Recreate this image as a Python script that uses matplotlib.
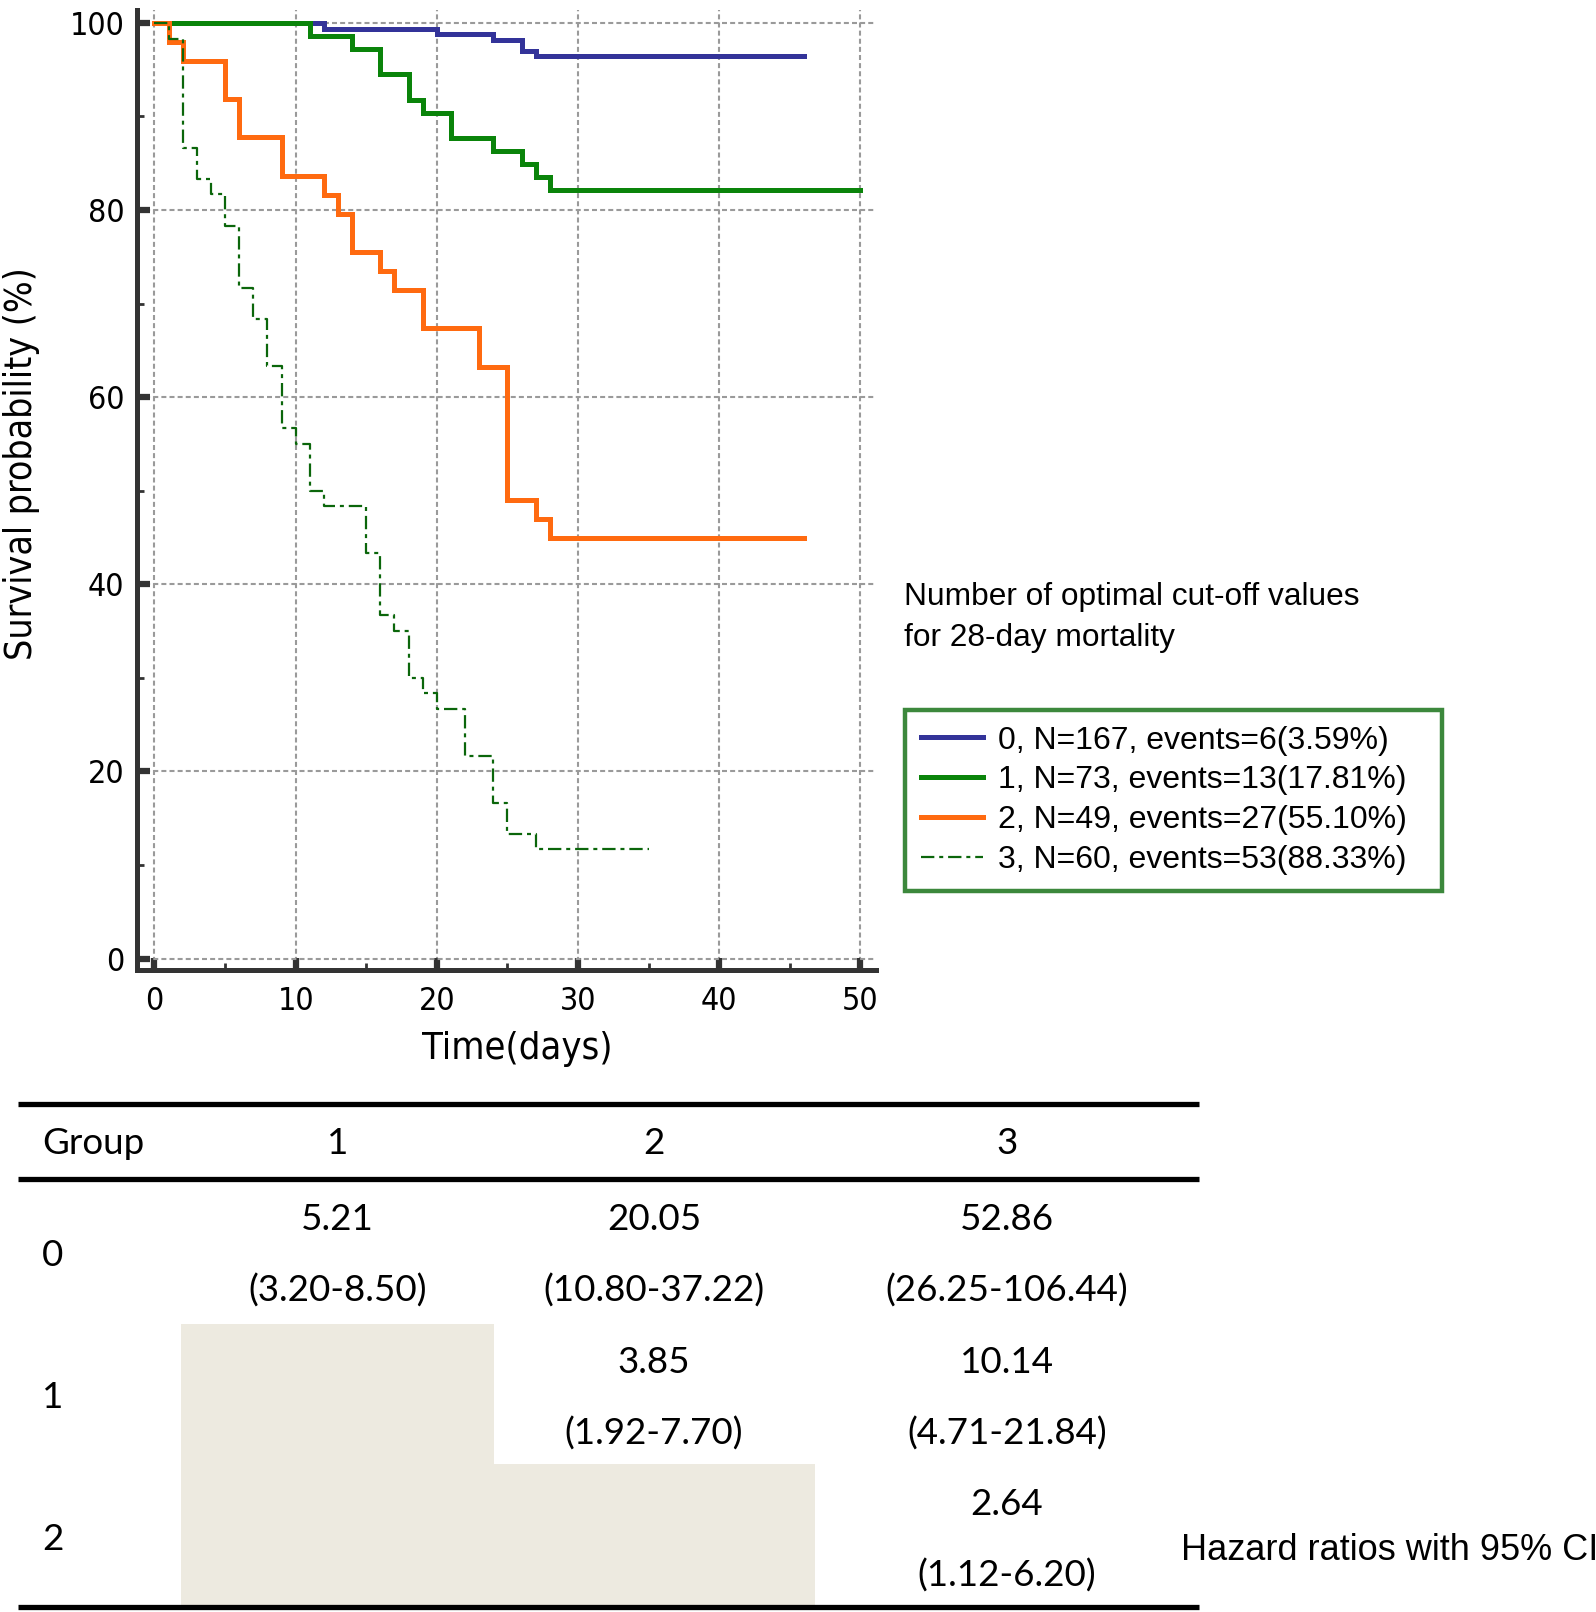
import matplotlib
matplotlib.use("Agg")
import matplotlib.pyplot as plt
from matplotlib import font_manager as fm
from matplotlib.patches import Rectangle
from matplotlib.ticker import MultipleLocator

# ---------------- data ----------------
group_labels = ["0, N=167, events=6(3.59%)",
                "1, N=73, events=13(17.81%)",
                "2, N=49, events=27(55.10%)",
                "3, N=60, events=53(88.33%)"]

g0_t = [0, 12, 20, 24, 26, 27, 46]
g0_s = [100, 99.40, 98.80, 98.20, 97.01, 96.41, 96.41]

g1_t = [0, 11, 14, 16, 18, 19, 21, 24, 26, 27, 28, 50]
g1_s = [100, 98.63, 97.26, 94.52, 91.78, 90.41, 87.67, 86.30, 84.93, 83.56, 82.19, 82.19]

g2_t = [0, 1, 2, 5, 6, 9, 12, 13, 14, 16, 17, 19, 23, 25, 27, 28, 46]
g2_s = [100, 97.96, 95.92, 91.84, 87.76, 83.67, 81.63, 79.59, 75.51, 73.47, 71.43,
        67.35, 63.27, 48.98, 46.94, 44.90, 44.90]

g3_t = [0, 1, 2, 3, 4, 5, 6, 7, 8, 9, 10, 11, 12, 15, 16, 17, 18, 19, 20, 22, 24, 25, 27, 35]
g3_s = [100, 98.33, 86.67, 83.33, 81.67, 78.33, 71.67, 68.33, 63.33, 56.67, 55.00, 50.00,
        48.33, 43.33, 36.67, 35.00, 30.00, 28.33, 26.67, 21.67, 16.67, 13.33, 11.67, 11.67]

x_ticks = [0, 10, 20, 30, 40, 50]
y_ticks = [0, 20, 40, 60, 80, 100]

table_cols = ["1", "2", "3"]
table_rows = ["0", "1", "2"]
hr_values = [["5.21", "20.05", "52.86"],
             ["", "3.85", "10.14"],
             ["", "", "2.64"]]
hr_ci = [["(3.20-8.50)", "(10.80-37.22)", "(26.25-106.44)"],
         ["", "(1.92-7.70)", "(4.71-21.84)"],
         ["", "", "(1.12-6.20)"]]

# ---------------- fonts ----------------
def find_narrow():
    prefs = ['liberation sans narrow', 'arial narrow', 'nimbus sans narrow',
             'dejavu sans condensed', 'roboto condensed', 'open sans condensed']
    cands = []
    for f in fm.fontManager.ttflist:
        nm = f.name.lower()
        fn = f.fname.lower()
        if f.style != 'normal':
            continue
        if f.weight not in (400, 'normal', 'regular'):
            continue
        if 'bold' in fn or 'italic' in fn or 'oblique' in fn:
            continue
        st = str(f.stretch).lower()
        if 'narrow' in nm or 'condensed' in nm or 'condensed' in st or 'narrow' in fn or 'condensed' in fn:
            if 'mono' in nm or 'serif' in nm and 'sans' not in nm:
                continue
            score = len(prefs)
            for i, p in enumerate(prefs):
                if p in nm or p.replace(' ', '') in fn.replace('-', '').replace('_', ''):
                    score = i
                    break
            if 'semi' in st or 'semi' in fn:
                score += 0.5
            cands.append((score, f.fname))
    if not cands:
        return None
    cands.sort()
    return cands[0][1]

narrow_file = find_narrow()

def nprops(size, fallback_size):
    if narrow_file:
        return fm.FontProperties(fname=narrow_file, size=size)
    return fm.FontProperties(family=['Liberation Sans', 'DejaVu Sans'], size=fallback_size)

# ---------------- figure ----------------
W, H = 1596, 1612
plt.rcParams['font.family'] = ['Liberation Sans', 'DejaVu Sans']
fig = plt.figure(figsize=(W / 100, H / 100), dpi=100)

ax_l, ax_r, ax_top, ax_bot = 136.8, 876.0, 9.8, 969.8
ax = fig.add_axes([ax_l / W, 1 - ax_bot / H, (ax_r - ax_l) / W, (ax_bot - ax_top) / H])

c_blue = "#333399"
c_green = "#0A840A"
c_orange = "#FF6A10"
c_dk = "#0B660B"

series = [(g0_t, g0_s, dict(color=c_blue, lw=3.6, ls='-')),
          (g1_t, g1_s, dict(color=c_green, lw=3.6, ls='-')),
          (g2_t, g2_s, dict(color=c_orange, lw=3.6, ls='-')),
          (g3_t, g3_s, dict(color=c_dk, lw=1.6, ls=(0, (6, 2.2, 1.8, 2.2))))]
handles = []
for (t, s, st), lab in zip(series, group_labels):
    h, = ax.step(t, s, where='post', label=lab, solid_joinstyle='miter', **st)
    handles.append(h)

ax.set_xlim(-1.25, 51.1)
ax.set_ylim(-1.2, 101.4)
ax.set_xticks(x_ticks)
ax.set_yticks(y_ticks)
ax.xaxis.set_minor_locator(MultipleLocator(5))
ax.yaxis.set_minor_locator(MultipleLocator(10))
ax.grid(True, which='major', color='#9a9a9a', lw=1.5, ls=(0, (2.4, 1.5)))
ax.set_axisbelow(True)
for sp in ['top', 'right']:
    ax.spines[sp].set_visible(False)
for sp in ['left', 'bottom']:
    ax.spines[sp].set_color('#333333')
    ax.spines[sp].set_linewidth(3.6)
ax.tick_params(which='major', direction='in', length=9, width=4.5, color='#333333', pad=9)
ax.tick_params(axis='x', which='major', pad=12)
ax.tick_params(which='minor', direction='in', length=5, width=2, color='#333333')
for lab in ax.get_xticklabels() + ax.get_yticklabels():
    lab.set_fontproperties(nprops(23, 21.5))

ax.set_xlabel("Time(days)", fontproperties=nprops(27.3, 27))
ax.set_ylabel("Survival probability (%)", fontproperties=nprops(26.8, 27))
ax.xaxis.label.set_va('center')
ax.yaxis.label.set_va('center')
ax.xaxis.set_label_coords((517 - ax_l) / (ax_r - ax_l), (ax_bot - 1049) / (ax_bot - ax_top))
ax.yaxis.set_label_coords((21.5 - ax_l) / (ax_r - ax_l), (ax_bot - 464) / (ax_bot - ax_top))

# legend title
fig.text(904 / W, 1 - 597.5 / H, "Number of optimal cut-off values", fontsize=22.8,
         ha='left', va='center')
fig.text(904 / W, 1 - 637.6 / H, "for 28-day mortality", fontsize=22.8,
         ha='left', va='center')

leg_x0, leg_x1, leg_y0, leg_y1 = 905, 1441.8, 709.6, 889.6
leg = fig.legend(handles=handles, loc='upper left',
                 bbox_to_anchor=(leg_x0 / W, 1 - leg_y1 / H, (leg_x1 - leg_x0) / W, (leg_y1 - leg_y0) / H),
                 mode='expand', borderaxespad=0, fontsize=23, frameon=True, fancybox=False,
                 handlelength=1.95, handletextpad=0.45, labelspacing=0.31, borderpad=0.5)
leg.get_frame().set_edgecolor('#0B6B0B')
leg.get_frame().set_linewidth(3.2)

# ---------------- HR table ----------------
axt = fig.add_axes([0, 0, 1, 1])
axt.set_xlim(0, W)
axt.set_ylim(H, 0)
axt.axis('off')
axt.patch.set_visible(False)

tx0, tx1 = 17.5, 1199
col_edges = [17.5, 181, 493.6, 814.5, 1199]
y_top, y_head, y_bot = 1103.5, 1178.5, 1607.4
row_edges = [y_head, 1323.5, 1464.4, y_bot]
shade = '#EDEAE0'
for r in range(len(table_rows)):
    for c in range(len(table_cols)):
        if c < r:
            axt.add_patch(Rectangle((col_edges[c + 1], row_edges[r]),
                                    col_edges[c + 2] - col_edges[c + 1],
                                    y_bot - row_edges[r], color=shade, lw=0))
for yy in (y_top, y_head, y_bot):
    axt.plot([tx0, tx1], [yy, yy], color='black', lw=3.8, solid_capstyle='butt')

tfont = dict(family=['Lato', 'DejaVu Sans'], fontsize=26.5)
axt.text(42, 1143.6, "Group", ha='left', va='center', **tfont)
for c, lab in enumerate(table_cols):
    cx = (col_edges[c + 1] + col_edges[c + 2]) / 2
    axt.text(cx, 1143.6, lab, ha='center', va='center', **tfont)
for r, lab in enumerate(table_rows):
    ym = (row_edges[r] + row_edges[r + 1]) / 2
    axt.text(42, ym + 4, lab, ha='left', va='center', **tfont)
    for c in range(len(table_cols)):
        if hr_values[r][c]:
            cx = (col_edges[c + 1] + col_edges[c + 2]) / 2
            axt.text(cx, ym - 31, hr_values[r][c], ha='center', va='center', **tfont)
            axt.text(cx, ym + 40, hr_ci[r][c], ha='center', va='center', **tfont)

axt.text(1181, 1550.8, "Hazard ratios with 95% CI", ha='left', va='center', fontsize=26)

fig.savefig("out.png", dpi=100)
